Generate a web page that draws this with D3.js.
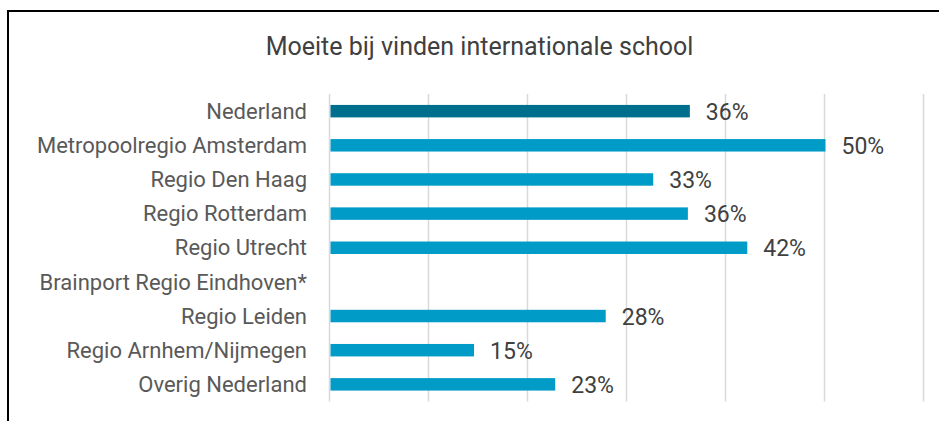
<!DOCTYPE html>
<html>
<head>
<meta charset="utf-8">
<script src="https://cdn.jsdelivr.net/npm/d3@7"></script>
<style>
  html, body { margin: 0; padding: 0; background: #fff; }
  svg { display: block; }
</style>
</head>
<body>
<svg id="chart" width="939" height="421"></svg>
<script>
// chart data
const title = 'Moeite bij vinden internationale school';
const regions = [
  'Nederland',
  'Metropoolregio Amsterdam',
  'Regio Den Haag',
  'Regio Rotterdam',
  'Regio Utrecht',
  'Brainport Regio Eindhoven*',
  'Regio Leiden',
  'Regio Arnhem/Nijmegen',
  'Overig Nederland',
];
// share (fraction), null = no data
const shares = [0.364, 0.501, 0.327, 0.362, 0.422, null, 0.279, 0.146, 0.228];
const xTicks = [0, 0.1, 0.2, 0.3, 0.4, 0.5, 0.6];

const FONT = 'Roboto, "Liberation Sans", sans-serif';
const DARK = '#006f8d';
const LIGHT = '#009cc7';

let svg = d3.select('#chart');

// outer frame (runs off the right and bottom of the crop)
svg.append('rect')
  .attr('x', 8)
  .attr('y', 11)
  .attr('width', 960)
  .attr('height', 440)
  .style('fill', 'none')
  .style('stroke', '#000')
  .style('stroke-width', 2);

svg.append('text')
  .attr('x', 479.5)
  .attr('y', 55)
  .attr('text-anchor', 'middle')
  .style('font-family', FONT)
  .style('font-size', '25px')
  .style('fill', '#404040')
  .text(title);

let x = d3.scaleLinear().domain([0, 0.6]).range([329.5, 923.5]);
let y = d3.scaleBand().domain(regions).range([94, 401.5]).paddingInner(0.635).paddingOuter(0.32);

// gridlines
svg.append('g')
  .selectAll('line')
  .data(xTicks)
  .join('line')
  .attr('x1', d => x(d))
  .attr('x2', d => x(d))
  .attr('y1', 94)
  .attr('y2', 401.5)
  .style('stroke', '#d9d9d9')
  .style('stroke-width', 1.5);

let rows = regions.map((name, i) => ({ name, value: shares[i], i }));

svg.append('g')
  .selectAll('rect')
  .data(rows.filter(d => d.value != null))
  .join('rect')
  .attr('x', x(0) + 1)
  .attr('y', d => y(d.name))
  .attr('width', d => x(d.value) - x(0) - 1)
  .attr('height', y.bandwidth())
  .style('fill', d => d.i === 0 ? DARK : LIGHT);

// category labels
svg.append('g')
  .selectAll('text')
  .data(rows)
  .join('text')
  .attr('x', 307)
  .attr('y', d => y(d.name) + y.bandwidth() / 2)
  .attr('dy', '0.35em')
  .attr('text-anchor', 'end')
  .style('font-family', FONT)
  .style('font-size', '22px')
  .style('fill', '#595959')
  .text(d => d.name);

// value labels
let fmt = d3.format('.0%');
svg.append('g')
  .selectAll('text')
  .data(rows.filter(d => d.value != null))
  .join('text')
  .attr('x', d => x(d.value) + 16)
  .attr('y', d => y(d.name) + y.bandwidth() / 2)
  .attr('dy', '0.38em')
  .style('font-family', FONT)
  .style('font-size', '23px')
  .style('fill', '#404040')
  .text(d => fmt(d.value));
</script>
</body>
</html>
